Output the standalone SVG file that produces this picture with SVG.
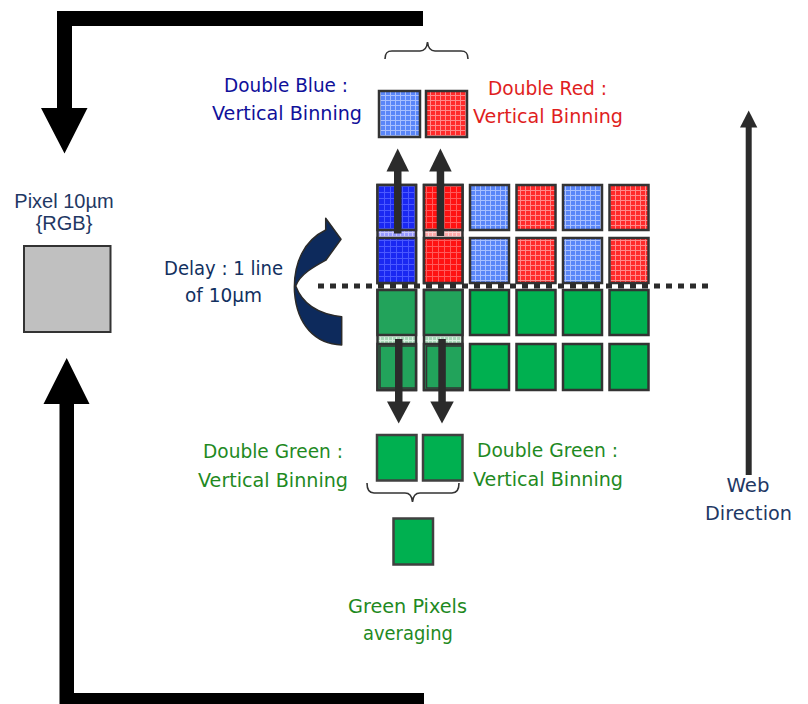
<svg xmlns="http://www.w3.org/2000/svg" width="808" height="704" viewBox="0 0 808 704">
<style>
.t{font-family:"DejaVu Sans",sans-serif;font-size:19.5px}
.a{font-family:"Liberation Sans",Arial,sans-serif;font-size:20px;fill:#1f3864}
.bl{fill:#10109a}.rd{fill:#e01e1e}.gn{fill:#1f8a1f}.nv{fill:#12305f}
.px{stroke:#333;stroke-width:2.5}
.g1{fill:#00b050}
.g2{fill:#22a35b}
.brace{fill:none;stroke:#333;stroke-width:1.6}
.dk{fill:#2b2b2b}
</style>
<defs>
<pattern id="pLB" width="5" height="5" patternUnits="userSpaceOnUse"><rect width="5" height="5" fill="#5a86f8"/><path d="M0 0.5H5M0.5 0V5" stroke="#a9c0ff" stroke-width="1"/></pattern>
<pattern id="pLR" width="5" height="5" patternUnits="userSpaceOnUse"><rect width="5" height="5" fill="#ff2a2a"/><path d="M0 0.5H5M0.5 0V5" stroke="#ff8a8a" stroke-width="1"/></pattern>
<pattern id="pDB" width="6" height="6" patternUnits="userSpaceOnUse"><rect width="6" height="6" fill="#1a28f2"/><path d="M0 0.5H6M0.5 0V6" stroke="#4a58ff" stroke-width="1"/></pattern>
<pattern id="pDR" width="6" height="6" patternUnits="userSpaceOnUse"><rect width="6" height="6" fill="#ff1212"/><path d="M0 0.5H6M0.5 0V6" stroke="#ff5a5a" stroke-width="1"/></pattern>
<pattern id="pBB" width="4" height="4" patternUnits="userSpaceOnUse"><rect width="4" height="4" fill="#9a9cff"/><path d="M0 0.5H4M0.5 0V4" stroke="#c8c8ff" stroke-width="1"/></pattern>
<pattern id="pRB" width="4" height="4" patternUnits="userSpaceOnUse"><rect width="4" height="4" fill="#ffaaaa"/><path d="M0 0.5H4M0.5 0V4" stroke="#ffd6d6" stroke-width="1"/></pattern>
<pattern id="pGB" width="4" height="4" patternUnits="userSpaceOnUse"><rect width="4" height="4" fill="#a8d8b8"/><path d="M0 0.5H4M0.5 0V4" stroke="#d8efe0" stroke-width="1"/></pattern>
</defs>

<!-- big black loop arrows -->
<g id="loop-top">
<path d="M423 11 L57 11 L57 108 L41 108 L64.5 153.5 L87.5 108 L72 108 L72 26 L423 26 Z" fill="#000"/>
</g>
<g id="loop-bottom">
<path d="M424 710 L424 693 L74 693 L74 404 L89.5 404 L66.7 358 L43.5 404 L59.5 404 L59.5 710 Z" fill="#000"/>
</g>

<!-- Pixel RGB -->
<g id="pixel-rgb">
<text class="a" x="64" y="208" text-anchor="middle">Pixel 10µm</text>
<text class="a" x="64" y="230" text-anchor="middle">{RGB}</text>
<rect x="24" y="246" width="86.5" height="86" fill="#c0c0c0" stroke="#333" stroke-width="2"/>
</g>

<!-- Delay curved arrow -->
<g id="delay">
<path d="M341.7 345 C315 344 297 325 294.5 292 C293 262 305 240 325.7 230 L325.7 218.3 L341 239.3 L326 260 C315 266 300 274 295.7 286 C302 303 318 314 341.7 316.7 Z" fill="#0d2a5c" stroke="#2a2a2a" stroke-width="1.5" stroke-linejoin="round"/>
<text class="t nv" x="164" y="275" textLength="119" lengthAdjust="spacingAndGlyphs">Delay : 1 line</text>
<text class="t nv" x="185" y="301.5" textLength="77" lengthAdjust="spacingAndGlyphs">of 10μm</text>
</g>

<!-- top binned pixels -->
<g id="double-blue">
<rect x="379" y="91" width="41" height="46" fill="url(#pLB)" class="px"/>
<text class="t bl" x="224" y="91.5" textLength="124" lengthAdjust="spacingAndGlyphs">Double Blue :</text>
<text class="t bl" x="212" y="120" textLength="150" lengthAdjust="spacingAndGlyphs">Vertical Binning</text>
</g>
<g id="double-red">
<rect x="426" y="91" width="41" height="46" fill="url(#pLR)" class="px"/>
<text class="t rd" x="488" y="95" textLength="119" lengthAdjust="spacingAndGlyphs">Double Red :</text>
<text class="t rd" x="473" y="123" textLength="150" lengthAdjust="spacingAndGlyphs">Vertical Binning</text>
</g>
<g id="top-brace">
<path class="brace" d="M385 59 C385 53 387 51 392 51 L420 51 C425 51 427 47 427.5 42 C428 47 430 51 435 51 L461 51 C466 51 468 53 468 59"/>
</g>

<!-- pixel grid -->
<g id="grid">
<rect x="377.5" y="185" width="38.5" height="98" fill="url(#pBB)" class="px"/>
<rect x="377.5" y="185" width="38.5" height="45" fill="url(#pDB)" class="px"/>
<rect x="377.5" y="238" width="38.5" height="45" fill="url(#pDB)" class="px"/>
<rect x="424" y="185" width="38.5" height="98" fill="url(#pRB)" class="px"/>
<rect x="424" y="185" width="38.5" height="45" fill="url(#pDR)" class="px"/>
<rect x="424" y="238" width="38.5" height="45" fill="url(#pDR)" class="px"/>
<rect x="377.5" y="290" width="38.5" height="100" fill="url(#pGB)" class="px"/>
<rect x="377.5" y="290" width="38.5" height="45" class="px g2"/>
<rect x="377.5" y="344" width="38.5" height="46" class="px g2"/>
<rect x="380" y="346" width="36" height="42" fill="none" stroke="#333" stroke-width="1.5"/>
<rect x="424" y="290" width="38.5" height="100" fill="url(#pGB)" class="px"/>
<rect x="424" y="290" width="38.5" height="45" class="px g2"/>
<rect x="424" y="344" width="38.5" height="46" class="px g2"/>
<rect x="426.5" y="346" width="36" height="42" fill="none" stroke="#333" stroke-width="1.5"/>
<rect x="470" y="185" width="39" height="45" fill="url(#pLB)" class="px"/>
<rect x="516.5" y="185" width="39" height="45" fill="url(#pLR)" class="px"/>
<rect x="563" y="185" width="39" height="45" fill="url(#pLB)" class="px"/>
<rect x="609.5" y="185" width="39" height="45" fill="url(#pLR)" class="px"/>
<rect x="470" y="238" width="39" height="45" fill="url(#pLB)" class="px"/>
<rect x="516.5" y="238" width="39" height="45" fill="url(#pLR)" class="px"/>
<rect x="563" y="238" width="39" height="45" fill="url(#pLB)" class="px"/>
<rect x="609.5" y="238" width="39" height="45" fill="url(#pLR)" class="px"/>
<rect x="470" y="290" width="39" height="45" class="px g1"/>
<rect x="516.5" y="290" width="39" height="45" class="px g1"/>
<rect x="563" y="290" width="39" height="45" class="px g1"/>
<rect x="609.5" y="290" width="39" height="45" class="px g1"/>
<rect x="470" y="344" width="39" height="46" class="px g1"/>
<rect x="516.5" y="344" width="39" height="46" class="px g1"/>
<rect x="563" y="344" width="39" height="46" class="px g1"/>
<rect x="609.5" y="344" width="39" height="46" class="px g1"/>
</g>

<!-- delay line -->
<g id="delay-line">
<line x1="318" y1="286" x2="712" y2="286" stroke="#2b2b2b" stroke-width="5" stroke-dasharray="6 6"/>
</g>

<!-- lower binned pixels -->
<g id="double-green-left">
<rect x="377" y="435" width="39.5" height="45.5" class="g1" stroke="#404040" stroke-width="2.5"/>
<text class="t gn" x="203" y="458" textLength="140" lengthAdjust="spacingAndGlyphs">Double Green :</text>
<text class="t gn" x="198" y="487" textLength="150" lengthAdjust="spacingAndGlyphs">Vertical Binning</text>
</g>
<g id="double-green-right">
<rect x="423" y="435" width="39.5" height="45.5" class="g1" stroke="#404040" stroke-width="2.5"/>
<text class="t gn" x="477" y="457" textLength="141" lengthAdjust="spacingAndGlyphs">Double Green :</text>
<text class="t gn" x="473" y="486" textLength="150" lengthAdjust="spacingAndGlyphs">Vertical Binning</text>
</g>
<g id="bottom-brace">
<path class="brace" d="M367 483 C367 490 369 493 374 493 L405 493 C410 493 412 496 412.5 502 C413 496 415 493 420 493 L452 493 C457 493 459 490 459 483"/>
</g>
<g id="green-average">
<rect x="393.5" y="518.5" width="39.5" height="46" class="g1" stroke="#404040" stroke-width="2.5"/>
<text class="t gn" x="348" y="613" textLength="119" lengthAdjust="spacingAndGlyphs">Green Pixels</text>
<text class="t gn" x="363" y="640" textLength="90" lengthAdjust="spacingAndGlyphs">averaging</text>
</g>

<!-- web direction -->
<g id="web-direction">
<text class="t" fill="#1f3864" x="748" y="491.5" text-anchor="middle" textLength="43" lengthAdjust="spacingAndGlyphs">Web</text>
<text class="t" fill="#1f3864" x="705" y="520" textLength="87" lengthAdjust="spacingAndGlyphs">Direction</text>
</g>

<!-- connectors -->
<g id="connectors">
<rect x="394" y="170" width="7.5" height="63.5" class="dk"/>
<polygon points="386.5,171.5 397.7,148.5 409,171.5" class="dk"/>
<rect x="436.7" y="170" width="7.5" height="66" class="dk"/>
<polygon points="429.2,171.5 440.4,148.5 451.7,171.5" class="dk"/>
<rect x="395" y="339" width="7.5" height="64" class="dk"/>
<polygon points="387,401.5 398.7,423.5 410.5,401.5" class="dk"/>
<rect x="438.3" y="339" width="7.5" height="64" class="dk"/>
<polygon points="430.3,401.5 442,423.5 453.8,401.5" class="dk"/>
<rect x="745.7" y="125" width="6" height="350" class="dk"/>
<polygon points="740,127.5 748.7,110.5 757.3,127.5" class="dk"/>
</g>
</svg>
